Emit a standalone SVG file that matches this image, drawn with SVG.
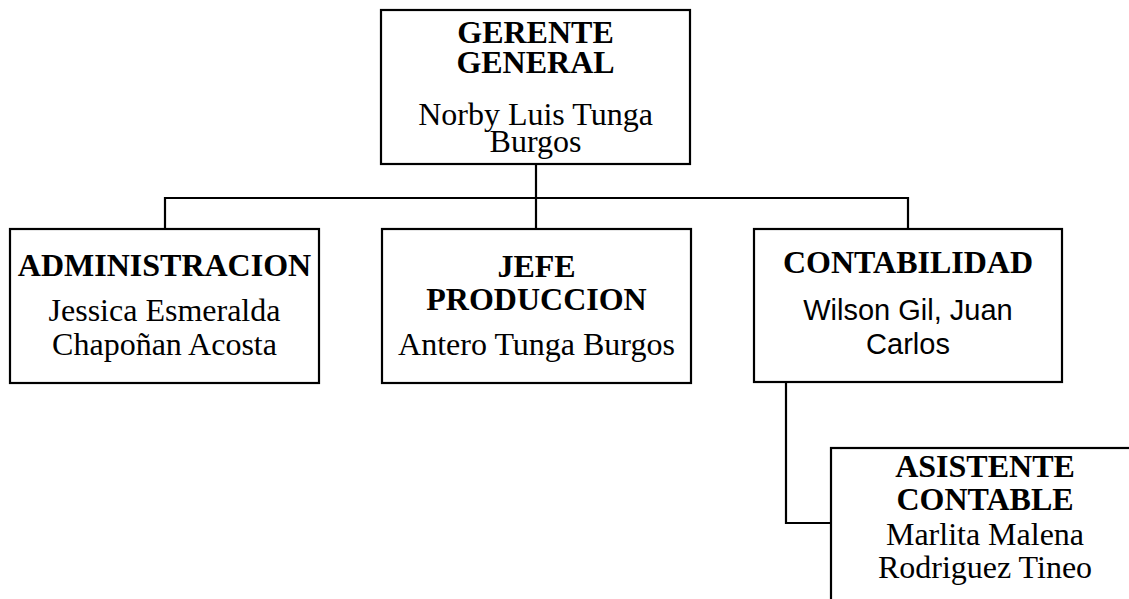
<svg xmlns="http://www.w3.org/2000/svg" width="1129" height="599" viewBox="0 0 1129 599">
<style>
.box{fill:#fff;stroke:#000;stroke-width:2.2}
.t{font-family:"Liberation Serif","Times New Roman",serif;font-size:32px;text-anchor:middle;fill:#000}
.b{font-weight:bold}
.s{font-family:"Liberation Sans",Arial,sans-serif;font-size:29px;text-anchor:middle;fill:#000}
.c{fill:none;stroke:#000;stroke-width:2.2}
</style>
<rect width="1129" height="599" fill="#fff"/>
<g id="connectors">
<path class="c" d="M536 164V229M165 198H908M165 197V229M908 197V229"/>
<path class="c" d="M786 382V523H831"/>
</g>
<g id="gerente">
<rect class="box" x="381" y="10" width="309" height="154"/>
<text class="t b" x="535.5" y="43">GERENTE</text>
<text class="t b" x="535.5" y="73">GENERAL</text>
<text class="t" x="535.5" y="125">Norby Luis Tunga</text>
<text class="t" x="535.5" y="152">Burgos</text>
</g>
<g id="administracion">
<rect class="box" x="10" y="229" width="309" height="154"/>
<text class="t b" x="164.5" y="276">ADMINISTRACION</text>
<text class="t" x="164.5" y="321">Jessica Esmeralda</text>
<text class="t" x="164.5" y="355">Chapoñan Acosta</text>
</g>
<g id="jefe">
<rect class="box" x="382" y="229" width="309" height="154"/>
<text class="t b" x="536.5" y="277">JEFE</text>
<text class="t b" x="536.5" y="310">PRODUCCION</text>
<text class="t" x="536.5" y="355">Antero Tunga Burgos</text>
</g>
<g id="contabilidad">
<rect class="box" x="754" y="229" width="308" height="153"/>
<text class="t b" x="908" y="273">CONTABILIDAD</text>
<text class="s" x="908" y="320">Wilson Gil, Juan</text>
<text class="s" x="908" y="354">Carlos</text>
</g>
<g id="asistente">
<rect class="box" x="831" y="448" width="308" height="170"/>
<text class="t b" x="985" y="477">ASISTENTE</text>
<text class="t b" x="985" y="510">CONTABLE</text>
<text class="t" x="985" y="545">Marlita Malena</text>
<text class="t" x="985" y="578">Rodriguez Tineo</text>
</g>
</svg>
